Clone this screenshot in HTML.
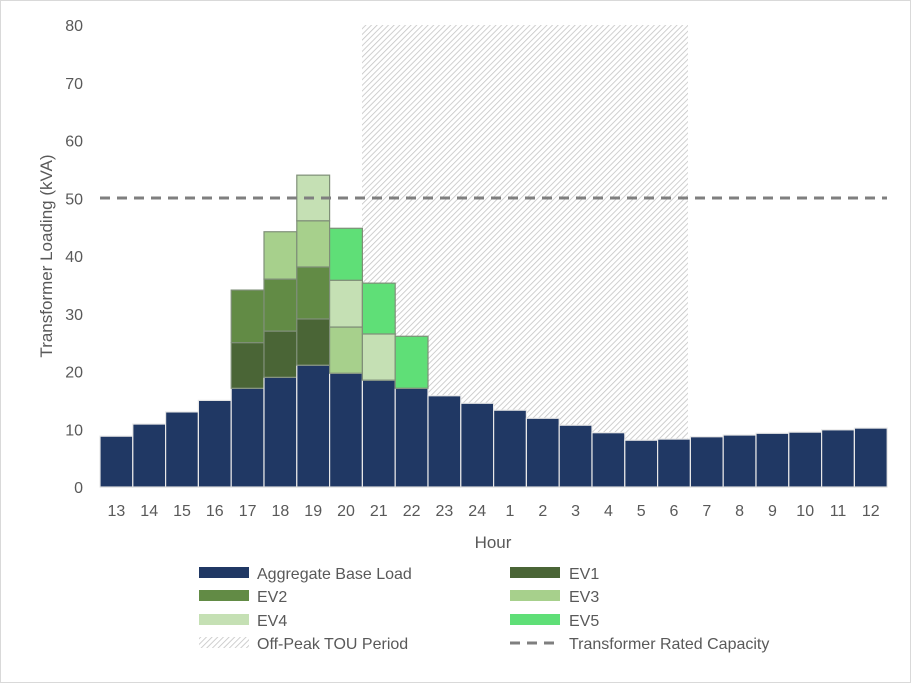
<!DOCTYPE html><html><head><style>body{margin:0;background:#fff}svg{display:block;font-family:"Liberation Sans",sans-serif}</style></head><body>
<svg width="911" height="683" viewBox="0 0 911 683">
<defs><pattern id="h" width="4" height="4" patternUnits="userSpaceOnUse" patternTransform="rotate(45)"><rect width="4" height="4" fill="#fff"/><line x1="0" y1="0" x2="0" y2="4" stroke="#c4c4c4" stroke-width="1.6"/></pattern></defs>
<rect x="0.5" y="0.5" width="910" height="682" fill="#fff" stroke="#d9d9d9"/>
<rect x="362" y="25" width="326" height="462" fill="url(#h)"/>
<g id="bars" stroke-width="1.2"></g>
<line x1="100" y1="487" x2="887" y2="487" stroke="#d9d9d9"/>
<line x1="100" y1="198" x2="887" y2="198" stroke="#7f7f7f" stroke-width="3" stroke-dasharray="10,7"/>
<g font-size="16" fill="#595959" text-anchor="end" id="yt"></g>
<g font-size="16" fill="#595959" text-anchor="middle" id="xt"></g>
<text x="493" y="548" font-size="17" fill="#595959" text-anchor="middle">Hour</text>
<text transform="translate(52,256) rotate(-90)" font-size="17" fill="#595959" text-anchor="middle">Transformer Loading (kVA)</text>
<g font-size="16" fill="#595959">
<rect x="199" y="567" width="50" height="11" fill="#203864"/><text x="257" y="579">Aggregate Base Load</text>
<rect x="510" y="567" width="50" height="11" fill="#4a6536"/><text x="569" y="579">EV1</text>
<rect x="199" y="590" width="50" height="11" fill="#628b45"/><text x="257" y="602">EV2</text>
<rect x="510" y="590" width="50" height="11" fill="#a7d08c"/><text x="569" y="602">EV3</text>
<rect x="199" y="614" width="50" height="11" fill="#c5e0b4"/><text x="257" y="626">EV4</text>
<rect x="510" y="614" width="50" height="11" fill="#5fdf77"/><text x="569" y="626">EV5</text>
<rect x="199" y="637" width="50" height="11" fill="url(#h)"/><text x="257" y="649">Off-Peak TOU Period</text>
<line x1="510" y1="643" x2="560" y2="643" stroke="#7f7f7f" stroke-width="3" stroke-dasharray="10,7"/><text x="569" y="649">Transformer Rated Capacity</text>
</g>
</svg>
<script>
var base=[8.8,10.9,13,15,17.1,19,21.1,19.7,18.5,17.1,15.8,14.5,13.3,11.9,10.7,9.4,8.1,8.3,8.7,9,9.3,9.5,9.9,10.2];
var labs=[13,14,15,16,17,18,19,20,21,22,23,24,1,2,3,4,5,6,7,8,9,10,11,12];
var cols=["#4a6536","#628b45","#a7d08c","#c5e0b4","#5fdf77"];
var ev={4:[25,34.1],5:[27,36,44.2],6:[29.1,38.1,46.1,54],7:[null,null,27.7,35.8,44.8],8:[null,null,null,26.5,35.3],9:[null,null,null,null,26.1]};
var S=5.775,Z=487,X0=100,W=32.8,ns="http://www.w3.org/2000/svg",g=document.getElementById('bars');
function r(x,y0,y1,f,s){var e=document.createElementNS(ns,'rect');e.setAttribute('x',x);e.setAttribute('y',Z-y1*S);e.setAttribute('width',W);e.setAttribute('height',(y1-y0)*S);e.setAttribute('fill',f);e.setAttribute('stroke',s);g.appendChild(e);}
for(var i=0;i<24;i++){var x=X0+i*W;r(x,0,base[i],"#203864","#e8e8e8");var p=base[i];if(ev[i]){ev[i].forEach(function(v,k){if(v!==null){r(x,p,v,cols[k],"#7f8f78");p=v;}});}
var t=document.createElementNS(ns,'text');t.setAttribute('x',x+W/2);t.setAttribute('y',516);t.textContent=labs[i];document.getElementById('xt').appendChild(t);}
for(var v=0;v<=80;v+=10){var t=document.createElementNS(ns,'text');t.setAttribute('x',83);t.setAttribute('y',Z-v*S+6);t.textContent=v;document.getElementById('yt').appendChild(t);}
</script>
</body></html>
